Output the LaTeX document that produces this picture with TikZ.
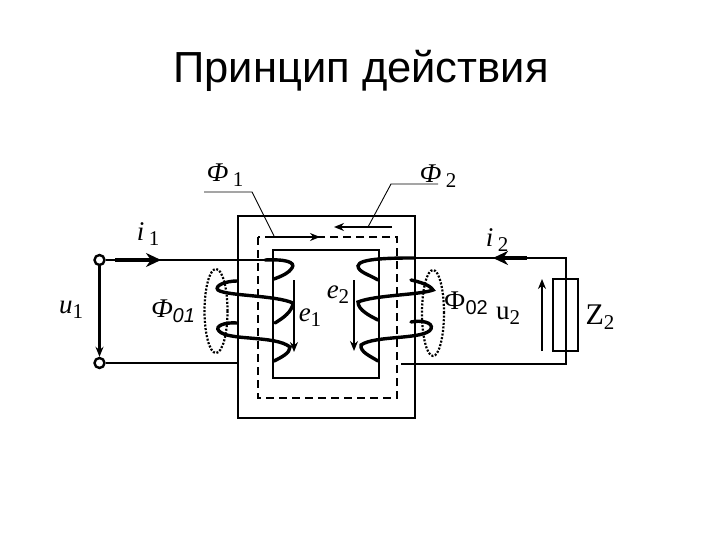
\documentclass[tikz,border=0pt]{standalone}
\usepackage{fontspec}
\setmainfont{Liberation Serif}
\setsansfont{Liberation Sans}
\usetikzlibrary{arrows.meta,shapes.geometric}
\tikzset{
	wire/.style={line width=2.6pt},
	coil/.style={line width=3.4pt,line cap=round},
	core/.style={line width=2.8pt},
	flux/.style={line width=1.8pt,dash pattern=on 8pt off 5pt},
	leak/.style={line width=2.2pt,dash pattern=on 2pt off 1.6pt},
	term/.style={circle,draw,line width=2.4pt,minimum size=10pt,inner sep=0pt},
	lab/.style={inner sep=0pt,font=\fontsize{27}{29}\selectfont},
	tip/.style={-{Stealth[length=10pt,width=8pt]}}
}
\newcommand{\smallsub}[1]{\raisebox{-5pt}{\fontsize{21}{23}\selectfont #1}}
\begin{document}
\begin{tikzpicture}[x=1pt,y=-1pt]
	\useasboundingbox (0,0) rectangle (720,540);
	\node[inner sep=0pt,font=\sffamily\fontsize{43.5}{46}\selectfont] (title) at (361,71) {Принцип действия};
	% core and flux path
	\draw[core] (238,216) rectangle (415,418);
	\draw[core] (273,250) rectangle (379,378);
	\draw[flux] (258,237) rectangle (397,398);
	\coordinate (fluxa) at (273,237);
	\coordinate (fluxb) at (320,237);
	\draw[tip,line width=1.4pt] (fluxa)--(fluxb);
	\coordinate (fluxc) at (392,227);
	\coordinate (fluxd) at (334,227);
	\draw[tip,line width=1.6pt] (fluxc)--(fluxd);
	% primary circuit
	\node[term] (ua) at (99.5,260) {};
	\node[term] (ub) at (99.5,363) {};
	\coordinate (ia) at (115,260);
	\coordinate (ib) at (161,260);
	\coordinate (wa) at (270,260);
	\coordinate (wb) at (238,363);
	\draw[wire] (ua)--(wa);
	\draw[wire] (ub)--(wb);
	\draw[wire,tip] (ua)--(ub);
	\draw[line width=4.4pt,-{Stealth[length=15pt,width=14pt]}] (ia)--(ib);
	% secondary circuit
	\coordinate (wc) at (566,258);
	\coordinate (wd) at (566,364);
	\coordinate (we) at (401,364);
	\coordinate (wf) at (415,258);
	\coordinate (ic) at (527,258);
	\coordinate (id) at (493,258);
	\draw[wire] (wf)--(wc)--(wd)--(we);
	\draw[line width=4.4pt,-{Stealth[length=15pt,width=14pt]}] (ic)--(id);
	\node[draw,line width=2.4pt,minimum width=25pt,minimum height=72pt,inner sep=0pt] (zload) at (565.5,315) {};
	\coordinate (ua2) at (542,351);
	\coordinate (ub2) at (542,279);
	\draw[wire,tip] (ua2)--(ub2);
	% primary coil
	\draw[coil] (265,260) .. controls (285,259) and (296,262) .. (292,268) .. controls (289,273) and (282,276) .. (274,279);
	\draw[coil] (237,281) .. controls (225,281) and (214,286) .. (218,290) .. controls (226,296) and (275,295) .. (293,303) .. controls (292,312) and (283,318) .. (275,323);
	\draw[coil] (237,323) .. controls (225,322) and (214,326) .. (219,331) .. controls (228,341) and (275,335) .. (290,347) .. controls (290,353) and (282,357) .. (274,361);
	% secondary coil
	\draw[coil] (415,258) .. controls (395,258) and (358,258) .. (358,266) .. controls (358,272) and (370,275) .. (378,280);
	\draw[coil] (411,280) .. controls (420,282) and (430,285) .. (433,290) .. controls (420,295) and (375,295) .. (358,302) .. controls (358,310) and (370,316) .. (378,320);
	\draw[coil] (411,322) .. controls (420,320) and (434,322) .. (431,329) .. controls (425,340) and (375,335) .. (361,345) .. controls (360,352) and (370,356) .. (378,361);
	% emf arrows
	\coordinate (ea) at (294,280);
	\coordinate (eb) at (294,352);
	\draw[wire,tip] (ea)--(eb);
	\coordinate (ec) at (354,280);
	\coordinate (ed) at (354,351);
	\draw[wire,tip] (ec)--(ed);
	% leakage flux
	\node[draw,leak,ellipse,minimum width=23pt,minimum height=84pt,inner sep=0pt] (loopa) at (216,311) {};
	\node[draw,leak,ellipse,minimum width=22pt,minimum height=86pt,inner sep=0pt] (loopb) at (433,313) {};
	% leaders
	\coordinate (la) at (204,192);
	\coordinate (lb) at (252,192);
	\coordinate (lc) at (274,236);
	\draw[line width=.9pt] (la)--(lb)--(lc);
	\coordinate (ld) at (438,184);
	\coordinate (le) at (391,184);
	\coordinate (lf) at (368,227);
	\draw[line width=.9pt] (ld)--(le)--(lf);
	% labels
	\node[lab] (phia) at (225,175) {\textit{Ф}\,\smallsub{1}};
	\node[lab] (phib) at (438,176) {\textit{Ф}\,\smallsub{2}};
	\node[lab] (cura) at (148,234) {\textit{i}\,\smallsub{1}};
	\node[lab] (curb) at (497,240) {\textit{i}\,\smallsub{2}};
	\node[lab] (volta) at (71,310) {\textit{u}\smallsub{1}};
	\node[lab] (phic) at (173,311) {\textit{Ф}\raisebox{-5pt}{\sffamily\itshape\fontsize{20}{22}\selectfont 01}};
	\node[lab] (emfa) at (310,318) {\textit{e}\smallsub{1}};
	\node[lab] (emfb) at (338,295) {\textit{e}\smallsub{2}};
	\node[lab] (phid) at (466,303) {Ф\raisebox{-5pt}{\sffamily\fontsize{20}{22}\selectfont 02}};
	\node[lab] (voltb) at (508,316) {u\smallsub{2}};
	\node[lab,font=\fontsize{30}{32}\selectfont] (zname) at (600,317) {Z\smallsub{2}};
\end{tikzpicture}
\end{document}
